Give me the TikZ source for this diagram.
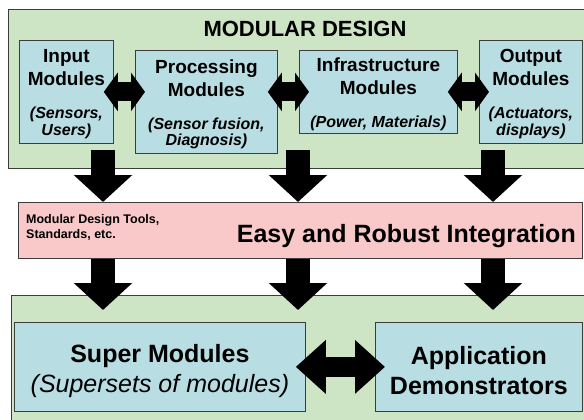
\documentclass[tikz,border=0pt]{standalone}
\usepackage{fontspec}
\setmainfont{Liberation Sans}
\usetikzlibrary{arrows.meta,calc}
\definecolor{GroupClr}{RGB}{205,229,196}
\definecolor{ModuleClr}{RGB}{184,221,226}
\definecolor{IntegClr}{RGB}{249,201,201}
\definecolor{EdgeClr}{RGB}{60,60,60}
\newcommand{\subline}[1]{{\itshape\fontsize{16}{16}\selectfont\begin{tabular}[t]{@{}c@{}}#1\end{tabular}}}
\newcommand{\lowtop}[1]{\rule{0pt}{#1}}

\begin{document}
\begin{tikzpicture}[x=1pt,y=-1pt,
  group/.style={draw=EdgeClr,fill=GroupClr,line width=0.8pt,anchor=north west,inner sep=0pt},
  module/.style={draw=EdgeClr,fill=ModuleClr,line width=0.8pt,anchor=north west,inner sep=0pt,align=center,font=\bfseries\fontsize{19}{23}\selectfont},
  supermod/.style={module,font=\bfseries\fontsize{25}{30}\selectfont},
  integbox/.style={draw=EdgeClr,fill=IntegClr,line width=0.8pt,anchor=north west,inner sep=0pt},
  downarrow/.style={line width=24pt,-{Triangle[width=57pt,length=27pt]}},
  linkarrow/.style={line width=19pt,{Triangle[width=38pt,length=14pt]}-{Triangle[width=38pt,length=14pt]},shorten <=-10pt,shorten >=-10pt},
  bigarrow/.style={line width=20pt,{Triangle[width=52pt,length=30pt]}-{Triangle[width=52pt,length=30pt]},shorten <=-10pt,shorten >=-10pt}]
\useasboundingbox (0,0) rectangle (584,420);

\node[group,minimum width=600pt,minimum height=159pt] (design) at (8,9) {};
\node[group,minimum width=600pt,minimum height=140pt] (base) at (11,295) {};
\node[integbox,minimum width=564pt,minimum height=56pt] (integ) at (18,202) {};

\node[font=\bfseries\fontsize{22}{26}\selectfont,anchor=base,inner sep=0pt] (title) at (305,37) {MODULAR DESIGN};

\node[module,minimum width=94pt,minimum height=103pt] (input) at (19,40) {\lowtop{19pt}Input\\Modules\\[10pt]\subline{(Sensors,\\Users)}};
\node[module,minimum width=142pt,minimum height=103pt] (proc) at (135,50) {\lowtop{20pt}Processing\\Modules\\[10pt]\subline{(Sensor fusion,\\Diagnosis)}};
\node[module,minimum width=158pt,minimum height=83pt] (infra) at (299,50) {\lowtop{21pt}Infrastructure\\Modules\\[10pt]\subline{(Power, Materials)}};
\node[module,minimum width=103pt,minimum height=103pt] (output) at (479,40) {\lowtop{19pt}Output\\Modules\\[10pt]\subline{(Actuators,\\displays)}};

\node[font=\bfseries\fontsize{12.5}{15}\selectfont,align=left,anchor=north west,inner sep=0pt] (tools) at (26,214) {Modular Design Tools,\\Standards, etc.};
\node[font=\bfseries\fontsize{25}{30}\selectfont,anchor=base east,inner sep=0pt] (easy) at (576,242) {Easy and Robust Integration};

\node[supermod,minimum width=291pt,minimum height=89pt] (super) at (14,322) {\lowtop{26pt}Super Modules\\{\mdseries\itshape (Supersets of modules)}};
\node[supermod,minimum width=207pt,minimum height=89pt] (app) at (375,322) {\lowtop{26pt}Application\\Demonstrators};

\coordinate (d1) at (103,150);
\coordinate (d2) at (298,150);
\coordinate (d3) at (493,150);
\foreach \p in {d1,d2,d3}{
  \draw[downarrow] (\p) -- (\p |- integ.north);
  \draw[downarrow,shorten >=-15pt] (\p |- integ.south) -- (\p |- base.north);
}

\draw[linkarrow] (input.east) -- (input.east -| proc.west);
\draw[linkarrow] (proc.east |- infra.west) -- (infra.west);
\draw[linkarrow] (infra.east) -- (output.west);
\draw[bigarrow] (super.east) -- (app.west);
\end{tikzpicture}
\end{document}
